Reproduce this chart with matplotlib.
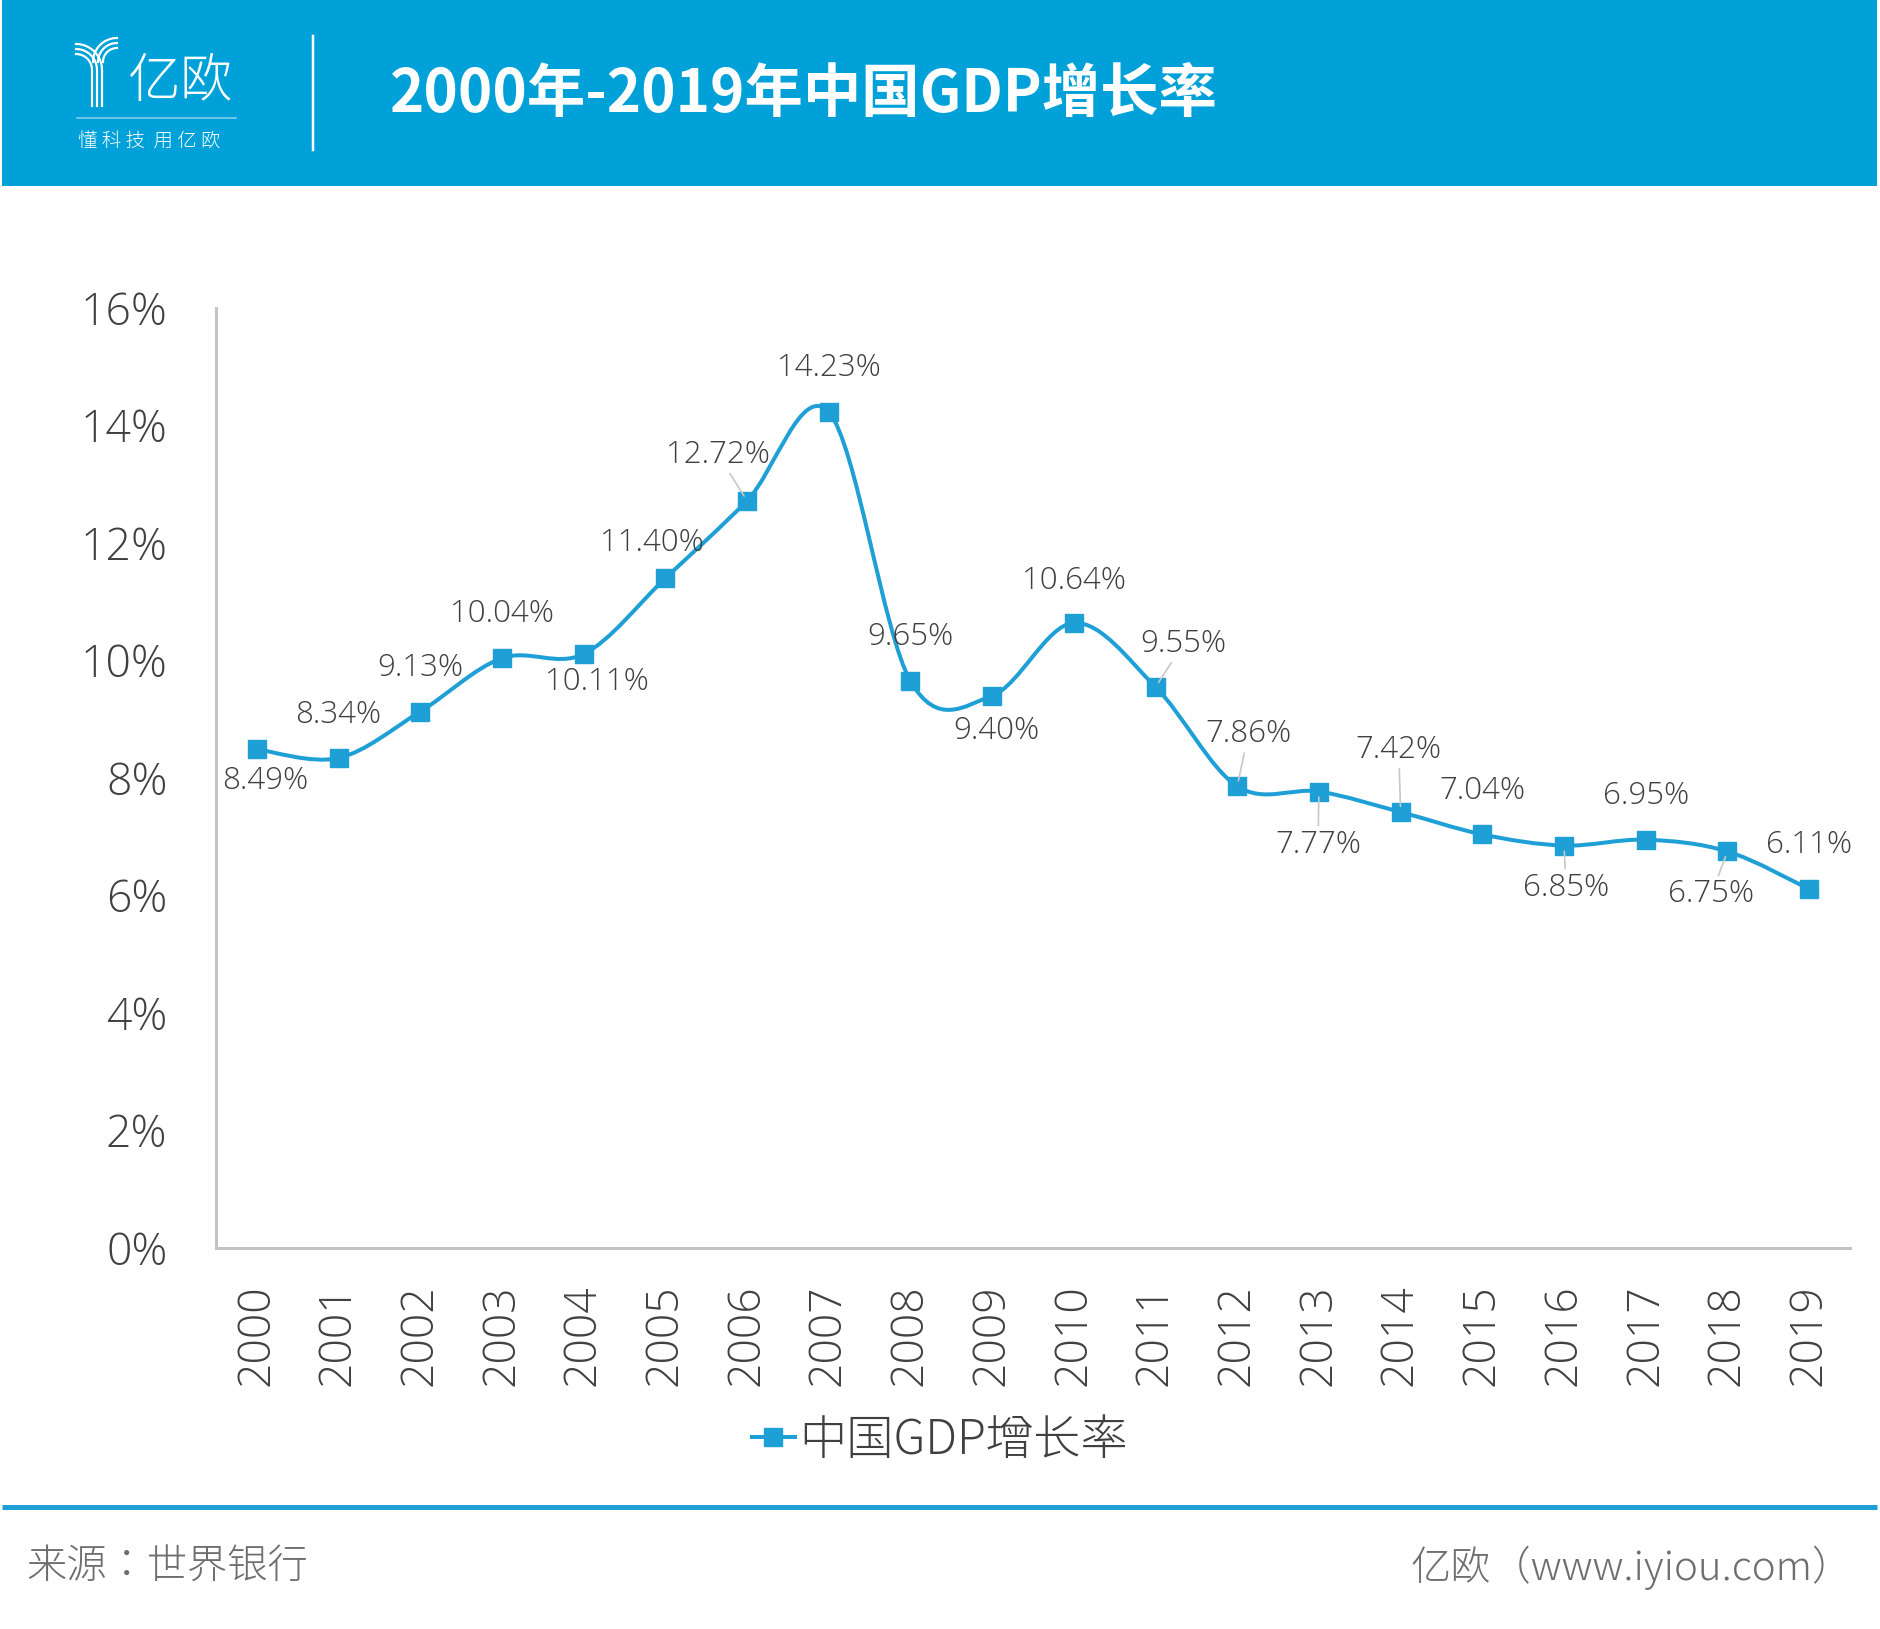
import numpy as np
import matplotlib
matplotlib.use("Agg")
import matplotlib.pyplot as plt
from matplotlib.path import Path
from matplotlib.patches import PathPatch, Rectangle
from matplotlib.lines import Line2D

# data
years = [str(y) for y in range(2000, 2020)]
growth = [8.49, 8.34, 9.13, 10.04, 10.11, 11.40, 12.72, 14.23, 9.65, 9.40,
          10.64, 9.55, 7.86, 7.77, 7.42, 7.04, 6.85, 6.95, 6.75, 6.11]
yticks = [0, 2, 4, 6, 8, 10, 12, 14, 16]

# label offsets in pixels (dx, dy) and which labels have a leader line
label_off = [(8, -32), (0, 43), (0, 44), (0, 44), (13, -28), (-13, 35), (-29, 46),
             (0, 44), (0, 44), (4, -35), (0, 42), (28, 43), (11, 52), (-1, -53),
             (-2, 62), (0, 43), (2, -42), (0, 44), (-16, -43), (0, 44)]
leaders = [6, 11, 12, 13, 14, 16, 18]

BLUE = '#00A1D9'
LINE = '#1E9FD6'
TXT = '#404040'
NUM_FONT = ['Open Sans', 'Noto Sans CJK JP']
CJK_FONT = ['Noto Sans CJK SC', 'DejaVu Sans']
CJK_LIGHT = ['Noto Sans CJK JP', 'Noto Sans CJK SC', 'DejaVu Sans']

W, H = 1880, 1629
fig = plt.figure(figsize=(W / 100, H / 100), dpi=100)
px = 72 / 100  # pixels -> points

# background layer in pixel coords
bg = fig.add_axes([0, 0, 1, 1])
bg.set_xlim(0, W)
bg.set_ylim(H, 0)
bg.axis('off')

bg.add_patch(Rectangle((2, 0), 1875, 186, color=BLUE, lw=0))
bg.plot([2, 1877], [1507, 1507], color=LINE, lw=5 * px, solid_capstyle='butt')

# logo
for k in range(3):
    r = 16 + 5 * k
    t = np.linspace(np.pi / 2, 0, 30)
    xs = 76 + r * np.cos(t)
    ys = 70 - r * np.sin(t)
    bg.plot(np.r_[xs, xs[-1]], np.r_[ys, 106], color='white', lw=2.2 * px)
    r2 = 24 - 5 * k
    t2 = np.linspace(np.pi / 2, np.pi, 30)
    xs2 = 117 + r2 * np.cos(t2)
    ys2 = 62 - r2 * np.sin(t2)
    bg.plot(xs2, ys2, color='white', lw=2.2 * px)
bg.text(128, 82, '亿欧', color='white', fontsize=38, family=CJK_LIGHT,
        fontweight=300, va='center', ha='left')
bg.plot([77, 236], [118, 118], color='#8fd3ef', lw=1.5 * px)
bg.text(78, 141, '懂 科 技  用 亿 欧', color='white', fontsize=14, family=CJK_LIGHT,
        fontweight=300, va='center', ha='left')
bg.plot([313, 313], [36, 150], color='white', lw=2.5 * px)

bg.text(390, 95, '2000年-2019年中国GDP增长率', color='white', fontsize=42,
        fontweight='bold', family=CJK_FONT, va='center', ha='left')

bg.text(26, 1568, '来源：世界银行', color='#6e6e6e', fontsize=29,
        family=CJK_LIGHT, fontweight=300, va='center', ha='left')
bg.text(1853, 1568, '亿欧（www.iyiou.com）', color='#6e6e6e', fontsize=29,
        family=CJK_LIGHT, fontweight=300, va='center', ha='right')

# chart
ax = fig.add_axes([216 / W, (H - 1248) / H, (1850 - 216) / W, (1248 - 308) / H])
ax.patch.set_alpha(0)
x = np.arange(len(years))
y = np.array(growth)

# smooth curve (Catmull-Rom as cubic Bezier) through the points
pts = np.column_stack([x, y]).astype(float)
verts = [pts[0]]
codes = [Path.MOVETO]
n = len(pts)
for i in range(n - 1):
    p0 = pts[i - 1] if i > 0 else pts[i]
    p3 = pts[i + 2] if i + 2 < n else pts[i + 1]
    c1 = pts[i] + (pts[i + 1] - p0) / 6
    c2 = pts[i + 1] - (p3 - pts[i]) / 6
    verts += [c1, c2, pts[i + 1]]
    codes += [Path.CURVE4] * 3
ax.add_patch(PathPatch(Path(verts, codes), fill=False, edgecolor=LINE,
                       lw=4 * px, zorder=2))
ax.plot(x, y, 's', color=LINE, ms=13, zorder=3)

for i, (v, (dx, dy)) in enumerate(zip(growth, label_off)):
    kw = {}
    if i in leaders:
        kw['arrowprops'] = dict(arrowstyle='-', color='#c8c8c8', lw=1.2,
                                shrinkA=0, shrinkB=4)
    ax.annotate(f'{v:.2f}%', (i, v), xytext=(dx, dy), textcoords='offset pixels',
                ha='center', va='center', fontsize=22.5, color=TXT,
                family=NUM_FONT, fontweight=300, zorder=4, **kw)

ax.set_xlim(-0.5, len(years) - 0.5)
ax.set_ylim(0, 16)
ax.set_yticks(yticks)
ax.set_yticklabels([f'{t}%' for t in yticks])
ax.set_xticks(x)
ax.set_xticklabels(years, rotation=90)
for lab in ax.get_xticklabels() + ax.get_yticklabels():
    lab.set_family(NUM_FONT)
    lab.set_fontweight(300)
    lab.set_color(TXT)
    lab.set_fontsize(32)
ax.tick_params(axis='y', length=0, pad=35)
ax.tick_params(axis='x', length=0, pad=26)
for s in ['top', 'right']:
    ax.spines[s].set_visible(False)
for s in ['left', 'bottom']:
    ax.spines[s].set_color('#c3c3c3')
    ax.spines[s].set_linewidth(3 * px)

handle = Line2D([], [], color=LINE, lw=4 * px, marker='s', ms=13)
leg = fig.legend([handle], ['中国GDP增长率'], loc='center',
                 bbox_to_anchor=(0.5, 1 - 1440 / H), frameon=False,
                 handlelength=0.9, handletextpad=0.1,
                 prop={'family': CJK_LIGHT, 'size': 34, 'weight': 300})
for t in leg.get_texts():
    t.set_color(TXT)

fig.savefig('out.png', dpi=100)
